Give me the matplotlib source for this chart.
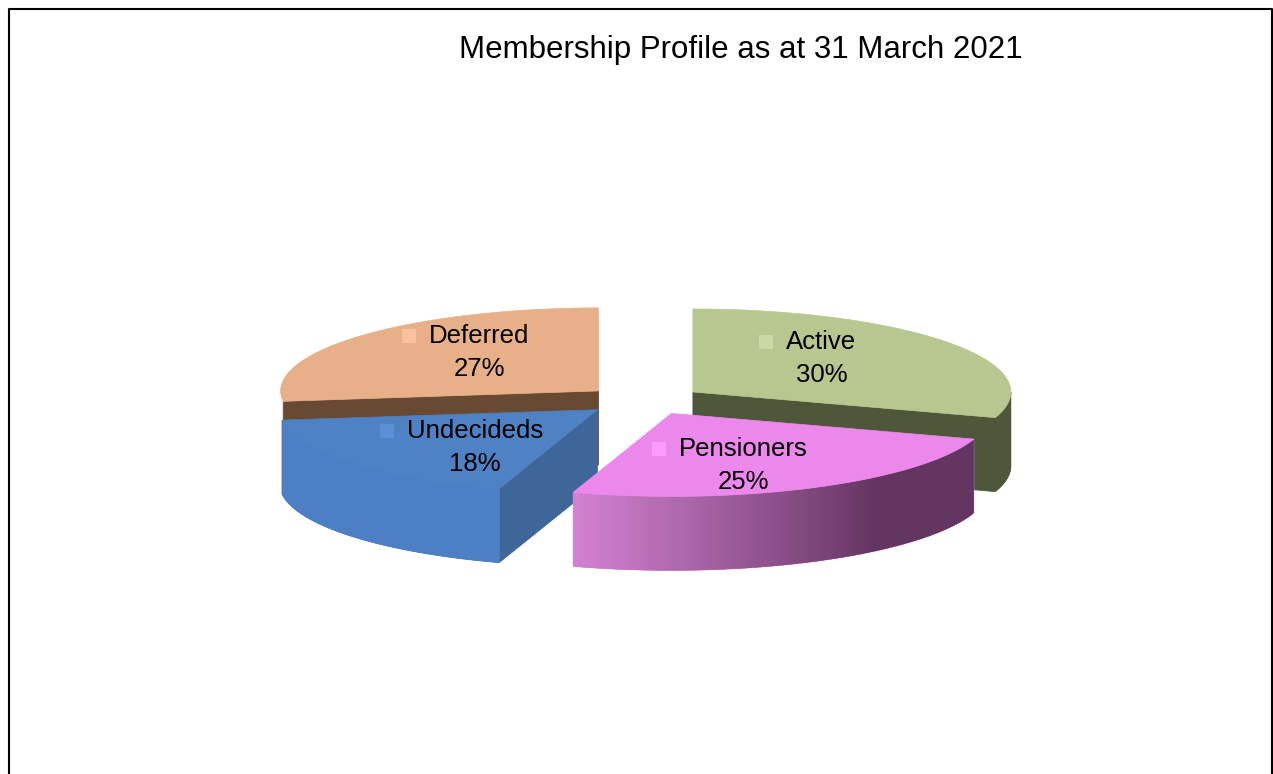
import numpy as np
import matplotlib.pyplot as plt
from matplotlib.patches import Polygon, Rectangle
from matplotlib.collections import PolyCollection
from matplotlib.colors import to_rgb

# === Data ===
labels = ["Active", "Pensioners", "Undecideds", "Deferred"]
values = [30, 25, 18, 27]
title = "Membership Profile as at 31 March 2021"

# === Styles ===
top_colors = ["#B8C78F", "#EC88EC", "#4F81C5", "#E8B088"]
key_colors = ["#C9DAA4", "#FF99FF", "#5B8FD6", "#F9C29C"]
wall_light = ["#4E573A", "#D884D6", "#4C7FC3", "#6A4C35"]
wall_dark = ["#4E573A", "#633561", "#4575B5", "#6A4C35"]
cut_colors = ["#4E573A", "#633561", "#3E6698", "#684A33"]

plt.rcParams["font.family"] = ["Liberation Sans", "DejaVu Sans"]

W, H = 1273, 774
fig = plt.figure(figsize=(W / 100, H / 100), dpi=100)
ax = fig.add_axes([0, 0, 1, 1])
ax.set_xlim(0, W)
ax.set_ylim(H, 0)
ax.axis("off")

# pie geometry (pixels)
cx, cy = 644, 400.5
rx, ry = 318, 83
depth = 74
explode = 0.19


def rim(ox, oy, th, dz=0.0):
    t = np.radians(th)
    return ox + rx * np.sin(t), oy - ry * np.cos(t) + dz


total = sum(values)
bounds = np.cumsum([0] + values) / total * 360
mids = (bounds[:-1] + bounds[1:]) / 2

# back slices first
order = sorted(range(len(values)), key=lambda i: -np.cos(np.radians(mids[i])))

apex = {}
for i in order:
    a1, a2, m = bounds[i], bounds[i + 1], mids[i]
    ox = cx + explode * rx * np.sin(np.radians(m))
    oy = cy - explode * 0.92 * ry * np.cos(np.radians(m))
    apex[i] = (ox, oy)

    # radial cut faces facing the viewer
    for edge, normal in ((a1, a1 - 90), (a2, a2 + 90)):
        if np.cos(np.radians(normal)) < -0.05:
            px, py = rim(ox, oy, edge)
            quad = [(ox, oy), (px, py), (px, py + depth), (ox, oy + depth)]
            ax.add_patch(Polygon(quad, closed=True, facecolor=cut_colors[i],
                                 edgecolor=cut_colors[i], lw=0.5))

    # outer wall (front half only), solid base then shaded strips
    lo, hi = max(a1, 90), min(a2, 270)
    if hi - lo > 10:
        th = np.linspace(lo, hi, int(hi - lo) + 2)
        top = [rim(ox, oy, t) for t in th]
        bot = [(x, y + depth) for x, y in top[::-1]]
        ax.add_patch(Polygon(top + bot, closed=True, facecolor=wall_light[i],
                             edgecolor=wall_light[i], lw=0.5))
        polys, cols = [], []
        c_l, c_d = np.array(to_rgb(wall_light[i])), np.array(to_rgb(wall_dark[i]))
        for t0, t1 in zip(th[:-1], th[1:]):
            t1e = min(t1 + 0.6, hi)
            x0, y0 = rim(ox, oy, t0)
            x1, y1 = rim(ox, oy, t1e)
            polys.append([(x0, y0), (x1, y1), (x1, y1 + depth), (x0, y0 + depth)])
            f = np.clip((200 - (t0 + t1) / 2) / 60, 0, 1)
            cols.append(c_l * (1 - f) + c_d * f)
        ax.add_collection(PolyCollection(polys, facecolors=cols, edgecolors="none",
                                         linewidths=0))

    # top face
    th = np.linspace(a1, a2, 120)
    pts = [(ox, oy)] + [rim(ox, oy, t) for t in th]
    ax.add_patch(Polygon(pts, closed=True, facecolor=top_colors[i],
                         edgecolor=top_colors[i], lw=0.5))

# === Data labels with legend keys ===
fig.canvas.draw()
renderer = fig.canvas.get_renderer()
inv = ax.transData.inverted()
for i in range(len(values)):
    ox, oy = apex[i]
    m = np.radians(mids[i])
    lx = ox + 0.5 * rx * np.sin(m)
    ly = oy - 0.7 * ry * np.cos(m)
    name = ax.text(lx, ly - 16, labels[i], ha="center", va="center", fontsize=18.5)
    ax.text(lx, ly + 17, f"{values[i] / total * 100:.0f}%", ha="center", va="center", fontsize=18.5)
    bb = name.get_window_extent(renderer=renderer)
    left = inv.transform((bb.x0, bb.y0))[0]
    ax.add_patch(Rectangle((left - 27, ly - 16 - 7), 14, 14, facecolor=key_colors[i], edgecolor="none"))

ax.text(741, 50, title, ha="center", va="center", fontsize=22.5)

# chart frame
ax.plot([9, 9, 1271.5, 1271.5], [H + 5, 9, 9, H + 5], color="black", lw=1.5, clip_on=False)

fig.savefig("out.png", dpi=100)
